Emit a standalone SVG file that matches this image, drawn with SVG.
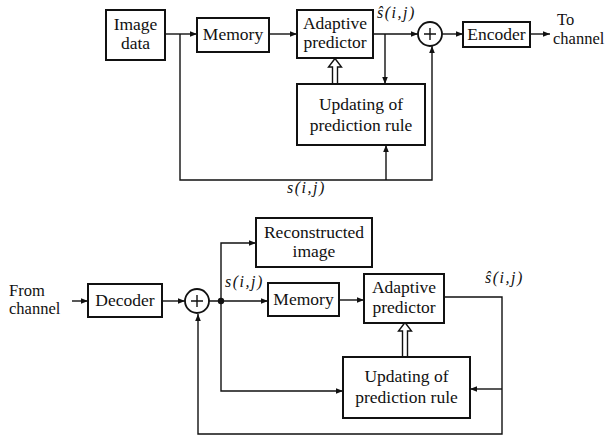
<svg xmlns="http://www.w3.org/2000/svg" width="612" height="436" viewBox="0 0 612 436">
<style>
.box{fill:#fff;stroke:#111;stroke-width:2}
.ln{fill:none;stroke:#111;stroke-width:1.4}
text{font-family:'Liberation Serif','DejaVu Serif','Times New Roman',serif;fill:#111}
.t{font-size:17.5px;text-anchor:middle}
.tl{font-size:16.5px}
.v{font-size:16px;font-style:italic;letter-spacing:1.5px}
.hol{fill:#fff;stroke:#111;stroke-width:1.4}
</style>
<defs>
<marker id="ah" viewBox="0 0 10 10" refX="10" refY="5" markerWidth="9" markerHeight="7" markerUnits="userSpaceOnUse" orient="auto">
<path d="M0,1 L10,5 L0,9 z" fill="#111"/>
</marker>
</defs>

<g id="connectors">
<path class="ln" d="M165,34 H197" marker-end="url(#ah)"/>
<path class="ln" d="M180,34 V180 H432 V46" marker-end="url(#ah)"/>
<path class="ln" d="M386,180 V145" marker-end="url(#ah)"/>
<path class="ln" d="M269,34 H297" marker-end="url(#ah)"/>
<path class="ln" d="M373,34 H418" marker-end="url(#ah)"/>
<path class="ln" d="M385,34 V84" marker-end="url(#ah)"/>
<path class="ln" d="M442,34 H463" marker-end="url(#ah)"/>
<path class="ln" d="M530,34 H550" marker-end="url(#ah)"/>
<path class="hol" d="M332.5,84 V67 H328.5 L335,58.5 L341.5,67 H337.5 V84"/>
<path class="ln" d="M72,301 H88" marker-end="url(#ah)"/>
<path class="ln" d="M162,301 H185" marker-end="url(#ah)"/>
<path class="ln" d="M209,301 H268" marker-end="url(#ah)"/>
<path class="ln" d="M221,301 V243 H256" marker-end="url(#ah)"/>
<path class="ln" d="M221,301 V391 H343" marker-end="url(#ah)"/>
<path class="ln" d="M339,300 H364" marker-end="url(#ah)"/>
<path class="ln" d="M444,297 H502 V434 H198 V314" marker-end="url(#ah)"/>
<path class="ln" d="M502,389 H470" marker-end="url(#ah)"/>
<circle cx="221" cy="301" r="3.2" fill="#111"/>
<path class="hol" d="M402.5,357 V331 H398.5 L405,322.5 L411.5,331 H407.5 V357"/>
</g>

<g id="image-data">
<rect class="box" x="106" y="10" width="59" height="50"/>
<text class="t" x="135.5" y="30">Image</text>
<text class="t" x="135.5" y="49">data</text>
</g>
<g id="memory-top">
<rect class="box" x="197" y="18" width="72" height="34"/>
<text class="t" x="233" y="40">Memory</text>
</g>
<g id="predictor-top">
<rect class="box" x="297" y="10" width="76" height="48"/>
<text class="t" x="335" y="29">Adaptive</text>
<text class="t" x="335" y="48">predictor</text>
</g>
<g id="sum-top">
<circle cx="430" cy="34" r="12" fill="#fff" stroke="#111" stroke-width="1.8"/>
<path class="ln" d="M424,34 H436 M430,28 V40"/>
</g>
<g id="encoder">
<rect class="box" x="463" y="22" width="67" height="25"/>
<text class="t" x="496.5" y="40">Encoder</text>
</g>
<g id="to-channel">
<text class="tl" x="557" y="25">To</text>
<text class="tl" x="553" y="44">channel</text>
</g>
<g id="updating-top">
<rect class="box" x="297" y="84" width="128" height="61"/>
<text class="t" x="361" y="110">Updating of</text>
<text class="t" x="361" y="131">prediction rule</text>
</g>
<g id="labels-top">
<text class="v" x="377" y="18">ŝ(i,j)</text>
<text class="v" x="287" y="193">s(i,j)</text>
</g>

<g id="from-channel">
<text class="tl" x="9" y="296">From</text>
<text class="tl" x="9" y="314">channel</text>
</g>
<g id="decoder">
<rect class="box" x="88" y="284" width="74" height="33"/>
<text class="t" x="125" y="306">Decoder</text>
</g>
<g id="sum-bottom">
<circle cx="197" cy="301" r="12" fill="#fff" stroke="#111" stroke-width="1.8"/>
<path class="ln" d="M191,301 H203 M197,295 V307"/>
</g>
<g id="reconstructed">
<rect class="box" x="256" y="218" width="116" height="49"/>
<text class="t" x="314" y="238">Reconstructed</text>
<text class="t" x="314" y="257">image</text>
</g>
<g id="memory-bottom">
<rect class="box" x="268" y="283" width="71" height="33"/>
<text class="t" x="303.5" y="305">Memory</text>
</g>
<g id="predictor-bottom">
<rect class="box" x="364" y="274" width="80" height="49"/>
<text class="t" x="404" y="293">Adaptive</text>
<text class="t" x="404" y="313">predictor</text>
</g>
<g id="updating-bottom">
<rect class="box" x="343" y="357" width="127" height="61"/>
<text class="t" x="406.5" y="382">Updating of</text>
<text class="t" x="406.5" y="403">prediction rule</text>
</g>
<g id="labels-bottom">
<text class="v" x="225" y="287">s(i,j)</text>
<text class="v" x="485" y="283">ŝ(i,j)</text>
</g>
</svg>
